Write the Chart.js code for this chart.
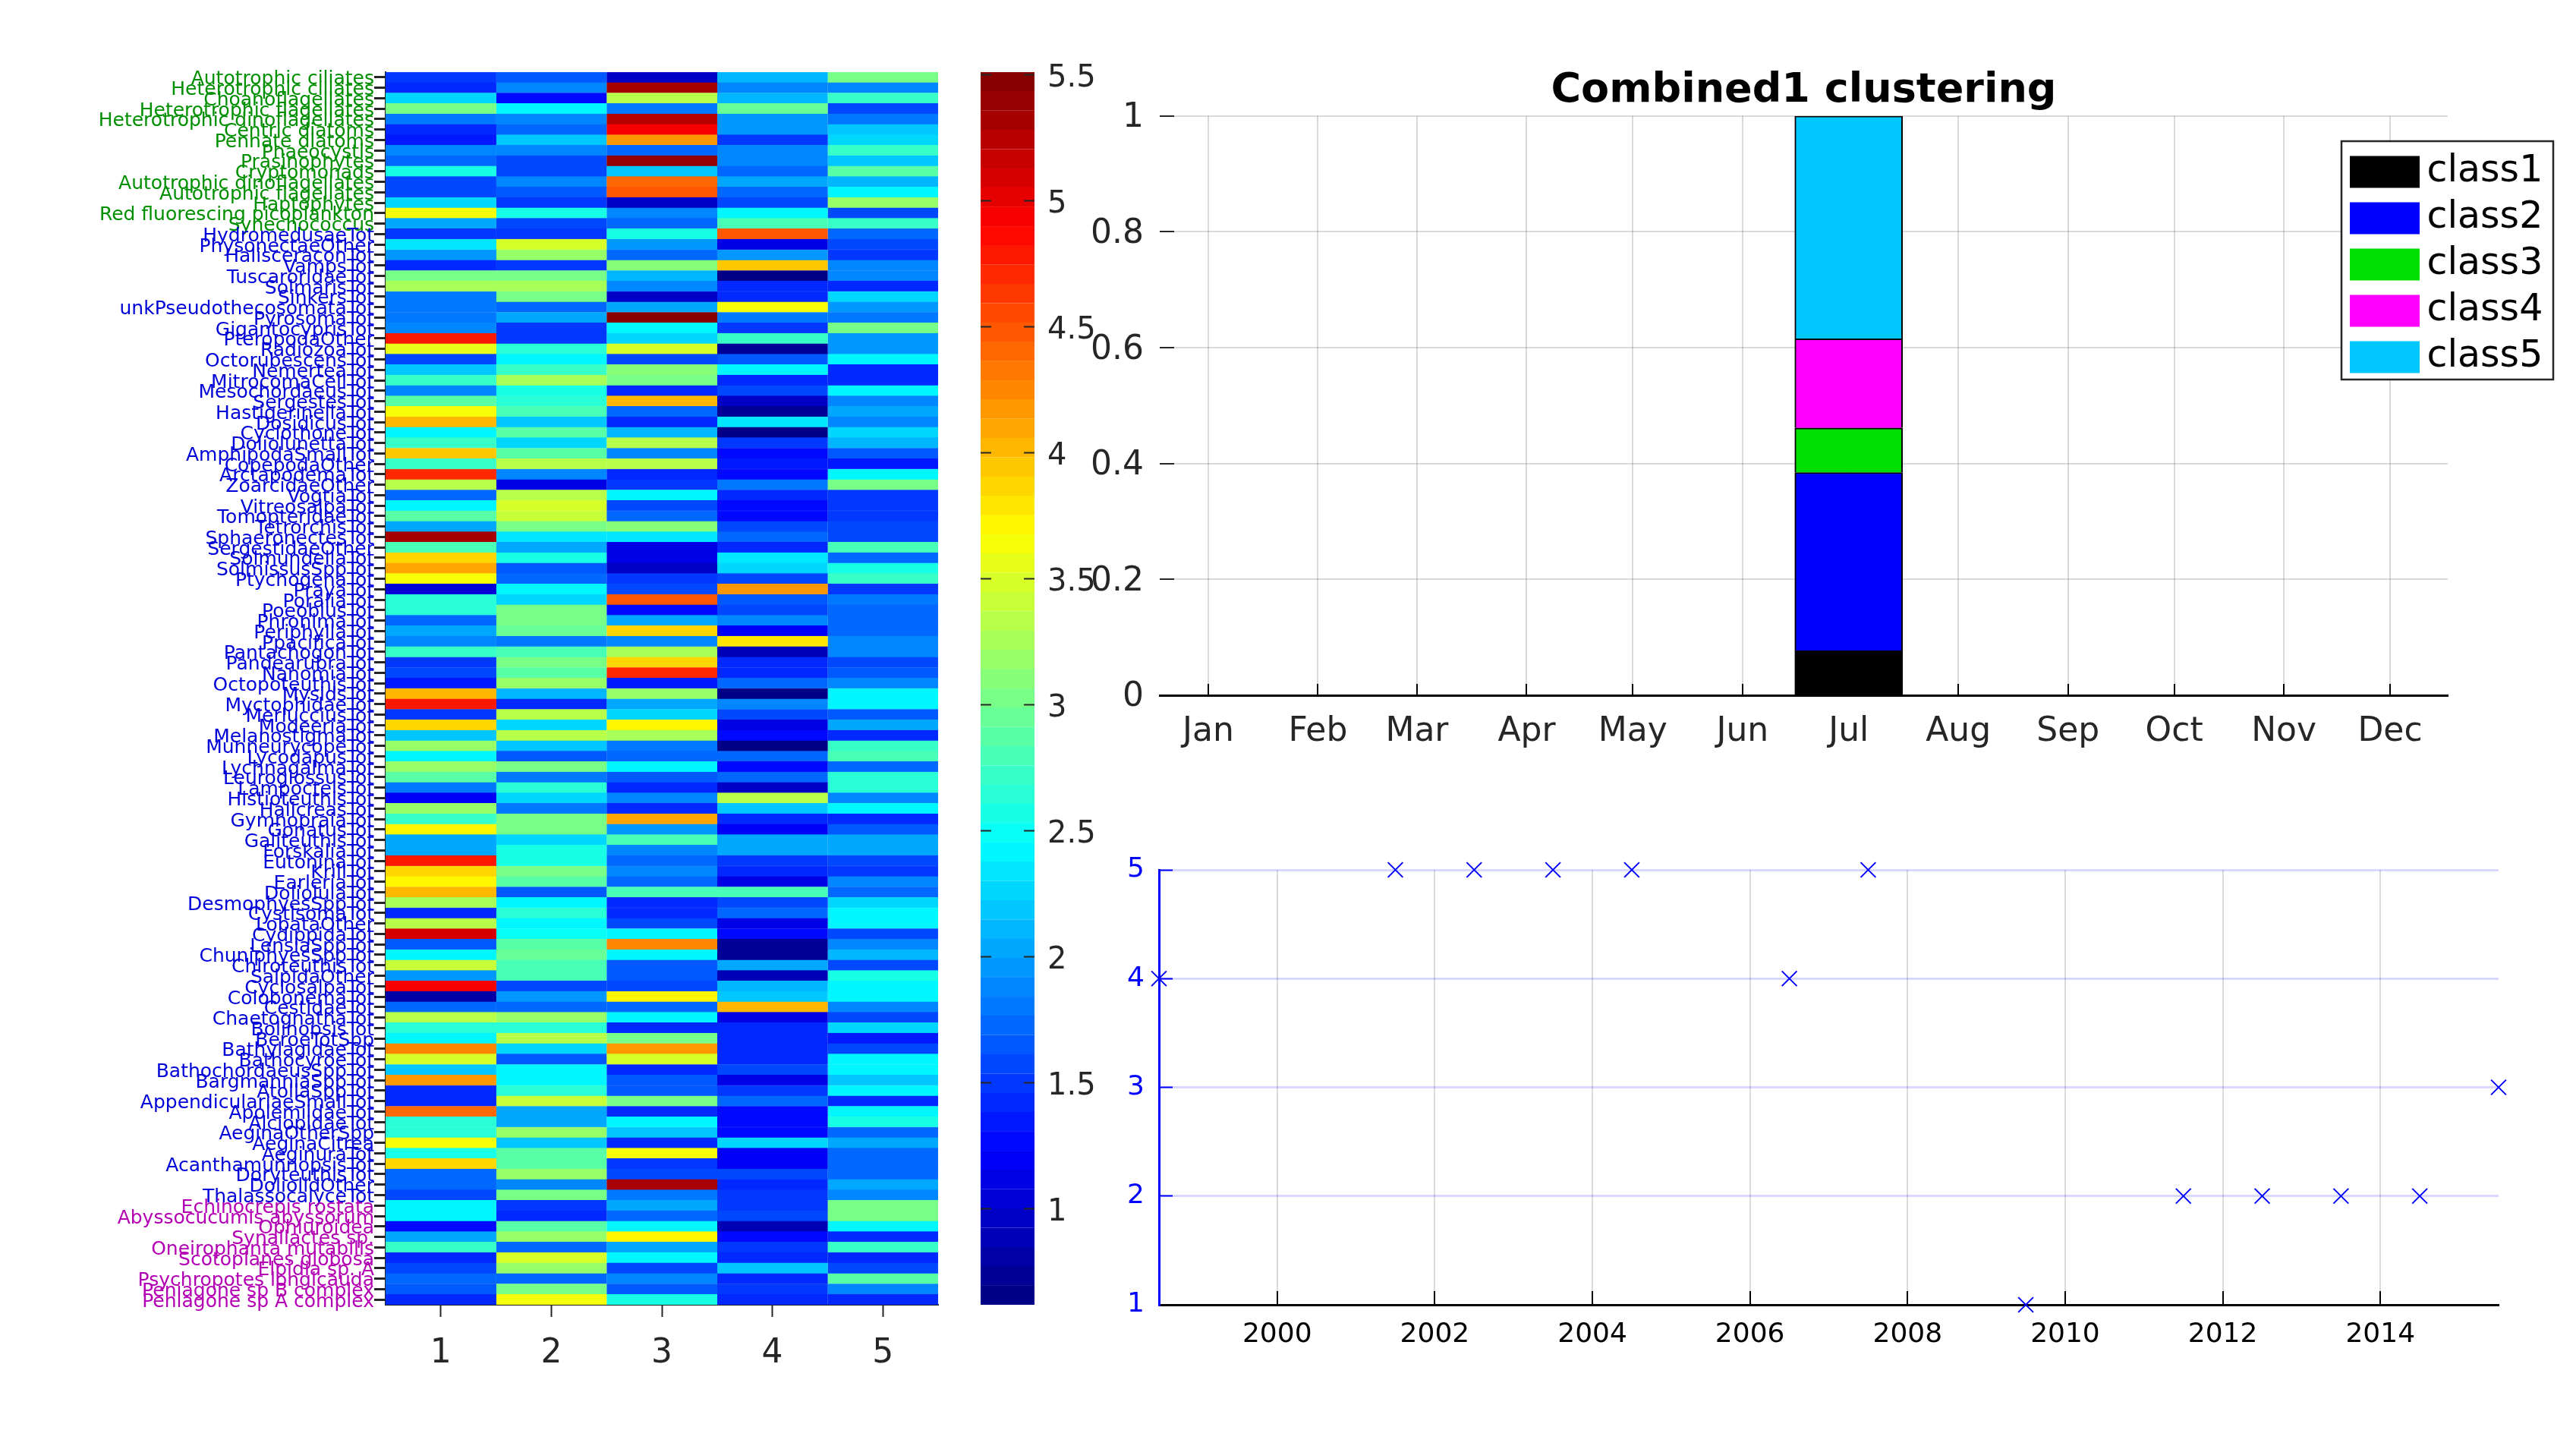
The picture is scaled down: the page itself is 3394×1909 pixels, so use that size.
<!DOCTYPE html>
<html>
<head>
<meta charset="utf-8">
<script src="https://cdn.jsdelivr.net/npm/chart.js@4"></script>
<style>
    html, body { margin: 0; padding: 0; background: #fff; }
    canvas { position: absolute; }
</style>
</head>
<body>
<canvas id="heatChart" width="1250" height="1850" style="left:0px;top:0px"></canvas>
<canvas id="colorbarChart" width="230" height="1850" style="left:1250px;top:0px"></canvas>
<canvas id="monthChart" width="1994" height="1040" style="left:1400px;top:0px"></canvas>
<canvas id="yearChart" width="1994" height="730" style="left:1400px;top:1100px"></canvas>
<script>
// ========== DATA ==========
const phytoLabels = ['Autotrophic ciliates', 'Heterotrophic ciliates', 'Choanoflagellates', 'Heterotrophic flagellates',
    'Heterotrophic dinoflagellates', 'Centric diatoms', 'Pennate diatoms', 'Phaeocystis', 'Prasinophytes', 'Cryptomonads',
    'Autotrophic dinoflagellates', 'Autotrophic flagellates', 'Haptophytes', 'Red fluorescing picoplankton', 'Synechococcus'];
const zooLabels = ['HydromedusaeTot', 'PhysonectaeOther', 'HalisceraconTot', 'VampsTot', 'TuscaroridaeTot', 'SolmarisTot',
    'SinkersTot', 'unkPseudothecosomataTot', 'PyrosomaTot', 'GigantocyprisTot', 'PteropodaOther', 'RadiozoaTot',
    'OctorubescensTot', 'NemerteaTot', 'MitrocomaCellTot', 'MesochordaeusTot', 'SergestesTot', 'HastigerinellaTot',
    'DosidicusTot', 'CyclothoneTot', 'DoliolunettaTot', 'AmphipodaSmallTot', 'CopepodaOther', 'ArctapodemaTot',
    'ZoarcidaeOther', 'VogtiaTot', 'VitreosalpaTot', 'TomopteridaeTot', 'TetrorchisTot', 'SphaeronectesTot',
    'SergestidaeOther', 'SolmundellaTot', 'SolmissusSppTot', 'PtychogenaTot', 'PrayaTot', 'PoraliaTot', 'PoeobiusTot',
    'PhronimaTot', 'PeriphyllaTot', 'PpacificaTot', 'PantachogonTot', 'PandearubraTot', 'NanomiaTot', 'OctopoteuthisTot',
    'MysidsTot', 'MyctophidaeTot', 'MerlucciusTot', 'ModeeriaTot', 'MelanostigmaTot', 'MunneurycopeTot', 'LycodapusTot',
    'LychnagalmaTot', 'LeuroglossusTot', 'LampocteisTot', 'HistioteuthisTot', 'HalicreasTot', 'GymnopraiaTot', 'GonatusTot',
    'GaliteuthisTot', 'ForskaliaTot', 'EutoninaTot', 'KrillTot', 'EarleriaTot', 'DoliolulaTot', 'DesmophyesSppTot',
    'CystisomaTot', 'LobataOther', 'CydippidaTot', 'LensiaSppTot', 'ChuniphyesSppTot', 'ChiroteuthisTot', 'SalpidaOther',
    'CyclosalpaTot', 'ColobonemaTot', 'CestidaeTot', 'ChaetognathaTot', 'BolinopsisTot', 'BeroeTotSpp', 'BathylagidaeTot',
    'BathocyroeTot', 'BathochordaeusSppTot', 'BargmanniaSppTot', 'AtollaSppTot', 'AppendiculariaeSmallTot', 'ApolemiidaeTot',
    'AlciopidaeTot', 'AeginaOtherSpp', 'AeginaCitrea', 'AeginuraTot', 'AcanthamunnopsisTot', 'DoryteuthisTot',
    'DoliolidOther', 'ThalassocalyceTot'];
const benthicLabels = ['Echinocrepis rostata', 'Abyssocucumis abyssorum', 'Ophiuroidea', 'Synallactes sp.',
    'Oneirophanta mutabilis', 'Scotoplanes globosa', 'Elpidia sp. A', 'Psychropotes longicauda',
    'Peniagone sp B complex', 'Peniagone sp A complex'];

const clusterNumbers = [1, 2, 3, 4, 5];

// one row per taxon, one value per cluster
const heatValues = [
    [1.5, 1.65, 0.95, 2.1, 3.0], [1.45, 1.9, 5.3, 1.85, 1.9], [2.3, 1.3, 3.3, 2.1, 2.7], [3.05, 2.45, 1.8, 2.95, 1.55],
    [1.8, 1.9, 5.25, 1.95, 1.8], [1.45, 1.75, 4.9, 1.95, 2.2], [1.35, 2.2, 4.2, 1.5, 2.25], [1.9, 1.9, 1.75, 1.85, 2.7],
    [1.75, 1.6, 5.4, 1.85, 2.2], [2.6, 1.55, 2.15, 1.75, 2.85], [1.55, 1.9, 4.4, 2.05, 2.1], [1.55, 1.65, 4.5, 1.75, 2.4],
    [2.25, 1.5, 1.0, 1.6, 3.15], [3.6, 2.6, 1.85, 2.45, 1.55], [2.05, 1.55, 1.75, 2.8, 2.7],
    [1.5, 1.5, 2.6, 4.45, 1.75], [2.35, 3.5, 1.95, 1.1, 1.55], [1.95, 3.15, 1.7, 1.95, 1.5], [1.45, 1.5, 3.1, 3.95, 1.85],
    [3.05, 3.05, 2.1, 0.65, 1.9], [3.25, 3.25, 1.9, 1.4, 1.45], [1.8, 3.0, 1.0, 1.4, 2.25], [1.8, 1.7, 2.0, 3.65, 1.95],
    [1.8, 2.0, 5.5, 1.8, 1.8], [1.85, 1.5, 2.4, 1.5, 3.05], [4.8, 1.5, 2.25, 2.7, 1.95], [3.55, 2.65, 3.5, 0.7, 1.95],
    [1.6, 2.45, 1.6, 1.65, 2.45], [2.2, 2.75, 3.1, 2.4, 1.45], [2.7, 3.25, 3.0, 1.4, 1.45], [1.9, 2.55, 1.45, 1.6, 2.45],
    [2.85, 2.65, 4.0, 1.0, 1.85], [3.65, 2.8, 1.75, 0.7, 2.05], [4.05, 2.2, 1.45, 2.35, 1.85], [2.45, 2.85, 2.1, 0.65, 2.3],
    [2.7, 2.25, 3.35, 1.5, 2.1], [3.95, 2.85, 1.9, 1.3, 1.65], [2.7, 3.3, 3.35, 1.35, 1.35], [4.7, 1.9, 1.45, 1.3, 2.45],
    [3.35, 1.15, 1.5, 1.8, 3.0], [1.75, 3.3, 2.45, 1.45, 1.5], [2.4, 3.5, 1.55, 1.3, 1.5], [2.85, 3.4, 1.7, 1.3, 1.5],
    [2.05, 3.0, 3.1, 1.6, 1.55], [5.3, 2.35, 2.35, 1.7, 1.55], [2.8, 2.0, 1.1, 1.45, 2.8], [3.85, 2.55, 1.15, 2.35, 1.7],
    [4.1, 1.65, 0.95, 2.25, 2.55], [3.65, 1.7, 1.5, 1.55, 2.7], [1.05, 2.45, 1.55, 4.2, 1.5], [2.65, 2.25, 4.5, 1.65, 1.8],
    [2.65, 3.0, 1.3, 1.55, 1.75], [1.75, 3.0, 2.0, 1.85, 1.75], [2.05, 2.95, 3.85, 1.2, 1.7], [1.85, 1.8, 1.9, 3.8, 1.9],
    [2.7, 2.8, 3.25, 0.9, 1.9], [1.5, 3.05, 3.85, 1.4, 1.6], [1.6, 2.85, 4.7, 1.4, 1.65], [1.35, 3.15, 1.35, 1.7, 1.9],
    [4.05, 2.1, 3.15, 0.65, 2.45], [4.8, 1.45, 2.0, 1.9, 2.45], [1.5, 3.3, 2.25, 1.55, 1.65], [3.9, 2.25, 3.7, 1.1, 2.05],
    [2.15, 3.35, 3.25, 1.25, 1.45], [3.2, 2.15, 1.8, 0.65, 2.75], [2.4, 1.65, 1.75, 1.7, 2.8], [3.15, 3.05, 2.45, 1.25, 1.7],
    [2.85, 1.8, 1.65, 1.7, 2.65], [1.8, 2.65, 1.4, 1.0, 2.65], [1.2, 2.25, 1.9, 3.3, 1.9], [3.15, 1.8, 1.45, 2.2, 2.45],
    [2.7, 3.0, 4.1, 1.4, 1.4], [3.7, 3.0, 1.95, 1.2, 1.65], [2.0, 2.3, 2.8, 2.05, 2.05], [2.05, 2.55, 1.85, 2.0, 2.05],
    [4.75, 2.55, 1.75, 1.5, 1.6], [3.85, 3.05, 1.85, 1.4, 1.5], [3.75, 2.85, 1.7, 1.1, 1.85], [4.05, 1.65, 2.8, 2.8, 1.7],
    [3.25, 2.45, 1.4, 1.6, 2.25], [1.4, 2.65, 1.4, 1.75, 2.4], [3.3, 2.45, 1.55, 1.15, 2.4], [5.1, 2.5, 2.45, 1.3, 1.6],
    [1.65, 2.9, 4.25, 0.75, 1.9], [2.4, 2.95, 2.4, 0.75, 2.1], [3.4, 2.8, 1.65, 2.05, 1.6], [1.95, 2.8, 1.65, 0.85, 2.55],
    [4.9, 1.6, 1.6, 2.1, 2.4], [0.8, 1.95, 3.7, 2.15, 2.4], [1.75, 1.75, 1.75, 4.05, 1.85], [3.35, 3.15, 2.45, 1.15, 1.55],
    [2.65, 2.65, 1.45, 1.45, 2.25], [2.4, 3.3, 3.0, 1.45, 1.35], [4.25, 2.25, 4.15, 1.45, 1.55], [3.5, 1.65, 3.5, 1.45, 2.45],
    [2.15, 2.45, 1.45, 1.55, 2.45], [4.15, 2.4, 1.65, 1.1, 2.2], [1.45, 2.65, 1.65, 1.5, 2.4], [1.45, 3.4, 3.0, 1.7, 1.4],
    [4.4, 2.0, 1.45, 1.3, 2.4], [2.65, 2.05, 2.45, 1.25, 2.6], [2.65, 3.15, 2.15, 1.3, 1.7], [3.65, 2.15, 1.45, 2.3, 2.05],
    [2.6, 2.9, 3.65, 1.2, 1.75], [3.9, 2.9, 1.5, 1.2, 1.75], [1.75, 3.15, 1.6, 1.55, 1.7], [1.75, 1.9, 5.35, 1.45, 2.05],
    [1.6, 3.05, 1.8, 1.5, 1.85],
    [2.45, 1.5, 2.05, 1.5, 3.05], [2.45, 1.45, 1.75, 1.55, 3.05], [1.25, 2.9, 2.45, 0.9, 2.4], [2.05, 3.15, 3.7, 1.3, 1.45],
    [2.75, 1.75, 2.0, 1.5, 2.75], [1.4, 3.5, 2.4, 1.4, 1.4], [1.6, 3.2, 1.6, 2.2, 1.55], [1.75, 1.75, 1.9, 1.4, 2.85],
    [1.65, 3.05, 1.65, 1.5, 1.9], [1.45, 3.6, 2.6, 1.45, 1.4]
];

const colorMin = 0.62;
const colorMax = 5.51;
const colorbarTicks = [1, 1.5, 2, 2.5, 3, 3.5, 4, 4.5, 5, 5.5];

const monthNames = ['Jan', 'Feb', 'Mar', 'Apr', 'May', 'Jun', 'Jul', 'Aug', 'Sep', 'Oct', 'Nov', 'Dec'];
const monthDays = [15, 46, 74, 105, 135, 166, 196, 227, 258, 288, 319, 349];
const fractionTicks = [0, 0.2, 0.4, 0.6, 0.8, 1];
const classNames = ['class1', 'class2', 'class3', 'class4', 'class5'];
const classColors = ['#000000', '#0000ff', '#00e000', '#ff00ff', '#00c8ff'];
const classFractions = [1 / 13, 4 / 13, 1 / 13, 2 / 13, 5 / 13];
const clusterDay = 196;

const sampleYears = [1998.5, 2001.5, 2002.5, 2003.5, 2004.5, 2006.5, 2007.5, 2009.5, 2011.5, 2012.5, 2013.5, 2014.5, 2015.5];
const sampleClusters = [4, 5, 5, 5, 5, 4, 5, 1, 2, 2, 2, 2, 3];
const yearTicks = [2000, 2002, 2004, 2006, 2008, 2010, 2012, 2014];
const clusterTicks = [1, 2, 3, 4, 5];

// ========== HELPERS ==========
const heatLabels = phytoLabels.concat(zooLabels, benthicLabels);
const AXIS_DARK = '#262626';
const FONT = 'DejaVu Sans';

function clamp01(v) {
    return Math.max(0, Math.min(1, v));
}

// MATLAB style jet map with 64 steps
function jetColor(value) {
    const level = Math.max(0, Math.min(63, Math.floor((value - colorMin) / (colorMax - colorMin) * 64)));
    const t = (level + 0.5) / 64;
    const r = clamp01(Math.min(4 * t - 1.5, -4 * t + 4.5));
    const g = clamp01(Math.min(4 * t - 0.5, -4 * t + 3.5));
    const b = clamp01(Math.min(4 * t + 0.5, -4 * t + 2.5));
    return `rgb(${Math.round(r * 255)},${Math.round(g * 255)},${Math.round(b * 255)})`;
}

function taxonColor(index) {
    if (index < phytoLabels.length) return '#008f00';
    if (index < phytoLabels.length + zooLabels.length) return '#0000d8';
    return '#b400b4';
}

function setTicks(values) {
    return scale => { scale.ticks = values.map(v => ({ value: v })); };
}

const baseOptions = {
    responsive: false,
    animation: false,
    devicePixelRatio: 1,
    events: []
};

Chart.defaults.font.family = FONT;

// ========== HEATMAP ==========
new Chart(document.getElementById('heatChart'), {
    type: 'bar',
    data: {
        labels: heatLabels,
        datasets: clusterNumbers.map((c, col) => ({
            data: heatValues.map(() => [c - 0.5, c + 0.5]),
            backgroundColor: heatValues.map(row => jetColor(row[col])),
            borderColor: heatValues.map(row => jetColor(row[col])),
            borderWidth: 0.5,
            barPercentage: 1,
            categoryPercentage: 1,
            grouped: false
        }))
    },
    options: {
        ...baseOptions,
        indexAxis: 'y',
        layout: { padding: { top: 95, right: 14, left: 0, bottom: 0 } },
        plugins: { legend: { display: false }, tooltip: { enabled: false } },
        scales: {
            x: {
                type: 'linear', min: 0.5, max: 5.5,
                afterBuildTicks: setTicks(clusterNumbers),
                afterFit: s => { s.height = 131; },
                grid: { drawOnChartArea: false, tickLength: 16, tickColor: AXIS_DARK, tickWidth: 2 },
                border: { color: AXIS_DARK, width: 2 },
                ticks: { color: AXIS_DARK, font: { size: 44 }, padding: 22, maxRotation: 0 }
            },
            y: {
                afterFit: s => { s.width = 508; },
                grid: { drawOnChartArea: false, tickLength: 15, tickColor: AXIS_DARK, tickWidth: 3, offset: false },
                border: { color: AXIS_DARK, width: 2 },
                ticks: {
                    autoSkip: false,
                    color: ctx => taxonColor(ctx.index),
                    font: { size: 25 },
                    padding: 0,
                    labelOffset: 3,
                    maxRotation: 0
                }
            }
        }
    }
});

// ========== COLORBAR ==========
const colorbarSets = [];
for (let i = 0; i < 64; i++) {
    const lo = colorMin + (colorMax - colorMin) * i / 64;
    const hi = colorMin + (colorMax - colorMin) * (i + 1) / 64;
    colorbarSets.push({
        data: [[lo, hi]],
        backgroundColor: jetColor((lo + hi) / 2),
        borderColor: jetColor((lo + hi) / 2),
        borderWidth: 0.5,
        barPercentage: 1,
        categoryPercentage: 1,
        grouped: false
    });
}

new Chart(document.getElementById('colorbarChart'), {
    type: 'bar',
    data: { labels: [''], datasets: colorbarSets },
    options: {
        ...baseOptions,
        layout: { padding: { top: 95, left: 42, right: 0, bottom: 131 } },
        plugins: { legend: { display: false }, tooltip: { enabled: false } },
        scales: {
            x: { display: false },
            y: {
                position: 'right', min: colorMin, max: colorMax,
                afterBuildTicks: setTicks(colorbarTicks),
                afterFit: s => { s.width = 117; },
                grid: { drawOnChartArea: false, tickLength: -14, tickColor: AXIS_DARK, tickWidth: 2, z: 1 },
                border: { display: false },
                ticks: { color: AXIS_DARK, font: { size: 40 }, padding: 31, labelOffset: 5, callback: v => String(v) }
            },
            yLeft: {
                position: 'left', min: colorMin, max: colorMax,
                afterBuildTicks: setTicks(colorbarTicks),
                afterFit: s => { s.width = 0; },
                grid: { drawOnChartArea: false, tickLength: -14, tickColor: AXIS_DARK, tickWidth: 2, z: 1 },
                border: { display: false },
                ticks: { display: false }
            }
        }
    }
});

// ========== MONTHLY BAR ==========
// legend sits half outside the axes, so it gets moved and redrawn on a white box
const LEGEND_BOX = { left: 1685, top: 186, width: 279, height: 314 };
const movedLegend = {
    id: 'movedLegend',
    afterLayout(chart) {
        const legend = chart.legend;
        legend.left = LEGEND_BOX.left + 14;
        legend.top = LEGEND_BOX.top + 4;
        legend.right = LEGEND_BOX.left + LEGEND_BOX.width;
        legend.width = LEGEND_BOX.width - 14;
        // some spare room at the bottom, otherwise the last class wraps to a new column
        legend.bottom = LEGEND_BOX.top + LEGEND_BOX.height + 60;
        legend.height = LEGEND_BOX.height + 56;
    },
    afterDraw(chart) {
        const ctx = chart.ctx;
        ctx.save();
        ctx.fillStyle = '#ffffff';
        ctx.strokeStyle = AXIS_DARK;
        ctx.lineWidth = 2.5;
        ctx.fillRect(LEGEND_BOX.left, LEGEND_BOX.top, LEGEND_BOX.width, LEGEND_BOX.height);
        ctx.strokeRect(LEGEND_BOX.left, LEGEND_BOX.top, LEGEND_BOX.width, LEGEND_BOX.height);
        ctx.restore();
        // the public draw() clips the thick swatch strokes at the legend's edge
        chart.legend._draw();
    }
};

new Chart(document.getElementById('monthChart'), {
    type: 'bar',
    data: {
        datasets: classNames.map((name, i) => ({
            label: name,
            data: [{ x: clusterDay, y: classFractions[i] }],
            backgroundColor: classColors[i],
            borderColor: '#000000',
            borderWidth: 2,
            barThickness: 142
        }))
    },
    options: {
        ...baseOptions,
        layout: { padding: { right: 169 } },
        plugins: {
            tooltip: { enabled: false },
            title: {
                display: true,
                text: 'Combined1 clustering',
                fullSize: false,
                color: '#000000',
                font: { size: 54, weight: 'bold' },
                padding: { top: 88, bottom: 0 }
            },
            legend: {
                position: 'chartArea',
                align: 'start',
                labels: {
                    boxWidth: 62,
                    boxHeight: 12,
                    padding: 12,
                    color: AXIS_DARK,
                    font: { size: 49 },
                    generateLabels: chart => classNames.map((name, i) => ({
                        text: name,
                        fillStyle: classColors[i],
                        strokeStyle: classColors[i],
                        lineWidth: 30,
                        datasetIndex: i
                    }))
                }
            }
        },
        scales: {
            x: {
                type: 'linear', min: 1.3, max: 365.3, stacked: true, offset: false,
                afterBuildTicks: setTicks(monthDays),
                afterFit: s => { s.height = 124; },
                grid: { offset: false, color: 'rgba(38,38,38,0.17)', lineWidth: 2, tickLength: -15, tickColor: '#000000', tickWidth: 2 },
                border: { color: '#000000', width: 3 },
                ticks: {
                    color: AXIS_DARK, font: { size: 44 }, padding: 37, maxRotation: 0, autoSkip: false,
                    callback: v => monthNames[monthDays.indexOf(v)]
                }
            },
            y: {
                min: 0, max: 1, stacked: true,
                afterBuildTicks: setTicks(fractionTicks),
                afterFit: s => { s.width = 128; },
                grid: { color: 'rgba(38,38,38,0.17)', lineWidth: 2, tickLength: -19, tickColor: AXIS_DARK, tickWidth: 2 },
                border: { display: false },
                ticks: { color: AXIS_DARK, font: { size: 44 }, padding: 40, labelOffset: 3, callback: v => String(v) }
            }
        }
    },
    plugins: [movedLegend]
});

// ========== YEARLY SCATTER ==========
new Chart(document.getElementById('yearChart'), {
    type: 'scatter',
    data: {
        datasets: [{
            data: sampleYears.map((yr, i) => ({ x: yr, y: sampleClusters[i] })),
            pointStyle: 'crossRot',
            pointRadius: 14,
            borderColor: '#0000ff',
            borderWidth: 2,
            clip: false
        }]
    },
    options: {
        ...baseOptions,
        layout: { padding: { top: 46, right: 102 } },
        plugins: { legend: { display: false }, tooltip: { enabled: false } },
        scales: {
            x: {
                type: 'linear', min: 1998.5, max: 2015.5,
                afterBuildTicks: setTicks(yearTicks),
                afterFit: s => { s.height = 111; },
                grid: { color: 'rgba(38,38,38,0.17)', lineWidth: 2, tickLength: -18, tickColor: '#000000', tickWidth: 2 },
                border: { color: '#000000', width: 3 },
                ticks: { color: '#000000', font: { size: 36 }, padding: 36, maxRotation: 0, callback: v => String(v) }
            },
            y: {
                min: 1, max: 5,
                afterBuildTicks: setTicks(clusterTicks),
                afterFit: s => { s.width = 127; s.paddingTop = 0; s.paddingBottom = 0; },
                grid: { color: 'rgba(0,0,255,0.15)', lineWidth: 3, tickLength: -18, tickColor: '#0000ff', tickWidth: 2 },
                border: { color: '#0000ff', width: 3 },
                ticks: { color: '#0000ff', font: { size: 36 }, padding: 37, callback: v => String(v) }
            }
        }
    }
});
</script>
</body>
</html>
